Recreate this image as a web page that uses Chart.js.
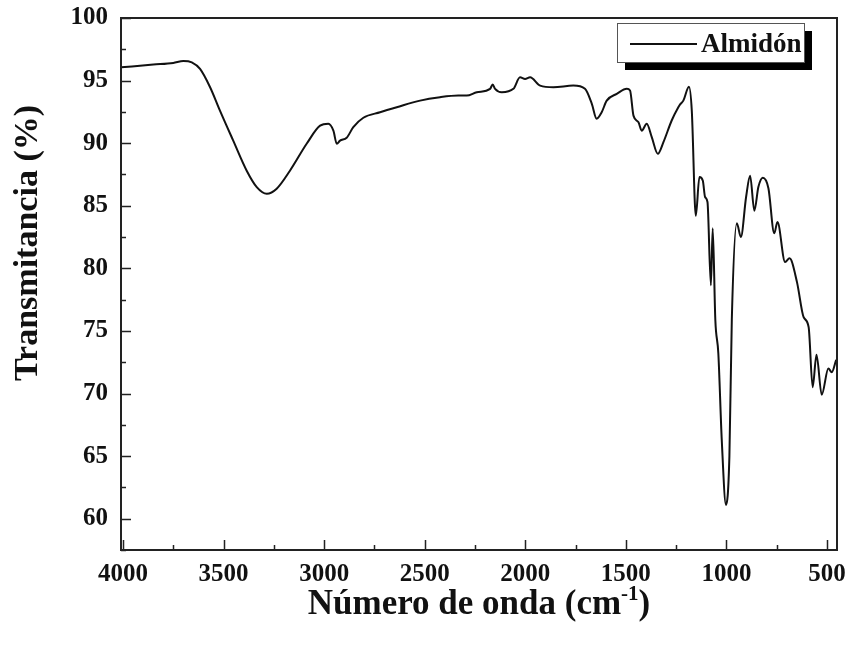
<!DOCTYPE html>
<html>
<head>
<meta charset="utf-8">
<script src="https://cdn.jsdelivr.net/npm/chart.js@4"></script>
<style>
  html, body { margin: 0; padding: 0; background: #fff; }
  #wrap { width: 849px; height: 647px; }
</style>
</head>
<body>
<div id="wrap"><canvas id="ftir"></canvas></div>
<script>
// Espectro FTIR del almidón
const seriesName = "Almidón";
const waveNumbers = [
  4009, 3849, 3750, 3700, 3658, 3617, 3567, 3518, 3452, 3385, 3335, 3285, 3236, 3170, 3087,
  3020, 2979, 2954, 2937, 2921, 2888, 2855, 2805, 2722, 2639, 2523, 2424, 2333, 2291, 2241,
  2175, 2162, 2150, 2117, 2059, 2026, 2001, 1976, 1926, 1860, 1761, 1703, 1669, 1645, 1620,
  1595, 1545, 1495, 1479, 1462, 1437, 1421, 1396, 1371, 1341, 1313, 1272, 1239, 1230, 1214,
  1186, 1172, 1152, 1134, 1117, 1106, 1094, 1077, 1068, 1055, 1040, 1023, 1002,
  985, 973, 948, 928, 902, 882, 861, 841, 819, 791, 762, 746, 708, 686, 649,
  616, 591, 571, 552, 526, 493, 476, 454
];
const transmittance = [
  96.06, 96.28, 96.41, 96.57, 96.46, 95.93, 94.47, 92.6, 90.2, 87.8, 86.49, 85.96, 86.36, 87.8, 89.95,
  91.4, 91.55, 91.0, 89.95, 90.2, 90.43, 91.28, 92.03, 92.47, 92.87, 93.4, 93.67, 93.8, 93.8, 94.07,
  94.34, 94.68, 94.34, 94.07, 94.34, 95.26, 95.13, 95.26, 94.6, 94.47, 94.6, 94.34, 93.14, 91.95, 92.47,
  93.4, 93.94, 94.34, 94.2, 92.2, 91.67, 91.0, 91.55, 90.48, 89.15, 90.08, 91.81, 92.87, 93.1, 93.4,
  94.5, 92.6, 84.2, 87.3, 87.0, 85.7, 85.3, 78.65, 83.2, 75.9, 73.2, 66.3, 61.1,
  65.0, 75.9, 83.6, 82.5, 85.7, 87.4, 84.6, 86.5, 87.24, 86.4, 82.8, 83.7, 80.5, 80.8, 78.9,
  76.1, 75.3, 70.5, 73.1, 69.9, 72.0, 71.7, 72.7
];
const xTicks = [4000, 3500, 3000, 2500, 2000, 1500, 1000, 500];
const xMinorTicks = [3750, 3250, 2750, 2250, 1750, 1250, 750];
const yTicks = [60, 65, 70, 75, 80, 85, 90, 95, 100];
const yMinorTicks = [57.5, 62.5, 67.5, 72.5, 77.5, 82.5, 87.5, 92.5, 97.5];
const xTitle = "Número de onda (cm";
const xTitleSup = "-1";
const yTitle = "Transmitancia (%)";

const serif = "'Liberation Serif', 'Times New Roman', serif";

// marco, marcas internas, títulos y leyenda con sombra
const framePlugin = {
  id: "frame",
  afterDraw(chart) {
    const ctx = chart.ctx;
    const a = chart.chartArea;
    const xs = chart.scales.x;
    const ys = chart.scales.y;
    ctx.save();
    ctx.strokeStyle = "#222";
    ctx.lineWidth = 2;
    ctx.strokeRect(a.left, a.top, a.right - a.left, a.bottom - a.top);

    ctx.lineWidth = 1.5;
    ctx.beginPath();
    xTicks.forEach(v => {
      const px = Math.round(xs.getPixelForValue(v)) + 0.5;
      ctx.moveTo(px, a.bottom); ctx.lineTo(px, a.bottom - 10);
    });
    xMinorTicks.forEach(v => {
      const px = Math.round(xs.getPixelForValue(v)) + 0.5;
      ctx.moveTo(px, a.bottom); ctx.lineTo(px, a.bottom - 5);
    });
    yTicks.forEach(v => {
      const py = Math.round(ys.getPixelForValue(v)) + 0.5;
      ctx.moveTo(a.left, py); ctx.lineTo(a.left + 10, py);
    });
    yMinorTicks.forEach(v => {
      const py = Math.round(ys.getPixelForValue(v)) + 0.5;
      ctx.moveTo(a.left, py); ctx.lineTo(a.left + 5, py);
    });
    ctx.stroke();

    // título eje x con superíndice
    ctx.fillStyle = "#111";
    ctx.textBaseline = "alphabetic";
    ctx.font = "bold 35px " + serif;
    const mainW = ctx.measureText(xTitle).width;
    ctx.font = "bold 21px " + serif;
    const supW = ctx.measureText(xTitleSup).width;
    ctx.font = "bold 35px " + serif;
    const closeW = ctx.measureText(")").width;
    const total = mainW + supW + closeW;
    let tx = (a.left + a.right) / 2 - total / 2;
    const ty = 614;
    ctx.textAlign = "left";
    ctx.fillText(xTitle, tx, ty);
    tx += mainW;
    ctx.font = "bold 21px " + serif;
    ctx.fillText(xTitleSup, tx, ty - 14);
    tx += supW;
    ctx.font = "bold 35px " + serif;
    ctx.fillText(")", tx, ty);

    // título eje y
    ctx.save();
    ctx.translate(28, 243);
    ctx.rotate(-Math.PI / 2);
    ctx.font = "bold 34px " + serif;
    ctx.textAlign = "center";
    ctx.textBaseline = "middle";
    ctx.fillText(yTitle, 0, 0);
    ctx.restore();

    // leyenda
    const bx = a.right - 220, by = a.top + 5, bw = 187, bh = 39;
    ctx.fillStyle = "#000";
    ctx.fillRect(bx + 8, by + 8, bw, bh);
    ctx.fillStyle = "#fff";
    ctx.fillRect(bx, by, bw, bh);
    ctx.strokeStyle = "#555";
    ctx.lineWidth = 1;
    ctx.strokeRect(bx + 0.5, by + 0.5, bw, bh);
    ctx.strokeStyle = "#111";
    ctx.lineWidth = 2;
    ctx.beginPath();
    ctx.moveTo(bx + 13, by + 21);
    ctx.lineTo(bx + 80, by + 21);
    ctx.stroke();
    ctx.fillStyle = "#111";
    ctx.font = "bold 27px " + serif;
    ctx.textAlign = "left";
    ctx.textBaseline = "middle";
    ctx.fillText(chart.data.datasets[0].label, bx + 84, by + 22);
    ctx.restore();
  }
};

const points = waveNumbers.map((w, i) => ({ x: w, y: transmittance[i] }));

new Chart(document.getElementById("ftir"), {
  type: "line",
  data: {
    datasets: [
      {
        label: seriesName,
        data: points,
        borderColor: "#111",
        borderWidth: 2,
        pointRadius: 0,
        fill: false,
        cubicInterpolationMode: "monotone",
      },
    ],
  },
  options: {
    responsive: true,
    maintainAspectRatio: false,
    animation: false,
    layout: { padding: { top: 18, right: 12, left: 0, bottom: 0 } },
    plugins: {
      legend: { display: false },
      tooltip: { enabled: false },
    },
    scales: {
      x: {
        type: "linear",
        reverse: true,
        min: 450,
        max: 4010,
        afterBuildTicks: (scale) => { scale.ticks = xTicks.map(v => ({ value: v })); },
        afterFit: (scale) => {
          scale.height = 97;
          scale.paddingLeft = 0;
          scale.paddingRight = 0;
        },
        grid: { display: false, drawTicks: false },
        border: { display: false },
        ticks: {
          autoSkip: false,
          maxRotation: 0,
          padding: 10,
          color: "#111",
          font: { family: serif, size: 25, weight: "bold" },
          callback: (v) => String(v),
        },
      },
      y: {
        min: 57.5,
        max: 100,
        afterBuildTicks: (scale) => { scale.ticks = yTicks.map(v => ({ value: v })); },
        afterFit: (scale) => {
          scale.width = 121;
          scale.paddingTop = 0;
          scale.paddingBottom = 0;
        },
        grid: { display: false, drawTicks: false },
        border: { display: false },
        ticks: {
          autoSkip: false,
          padding: 13,
          color: "#111",
          font: { family: serif, size: 25, weight: "bold" },
          callback: (v) => String(v),
        },
      },
    },
  },
  plugins: [framePlugin],
});
</script>
</body>
</html>
